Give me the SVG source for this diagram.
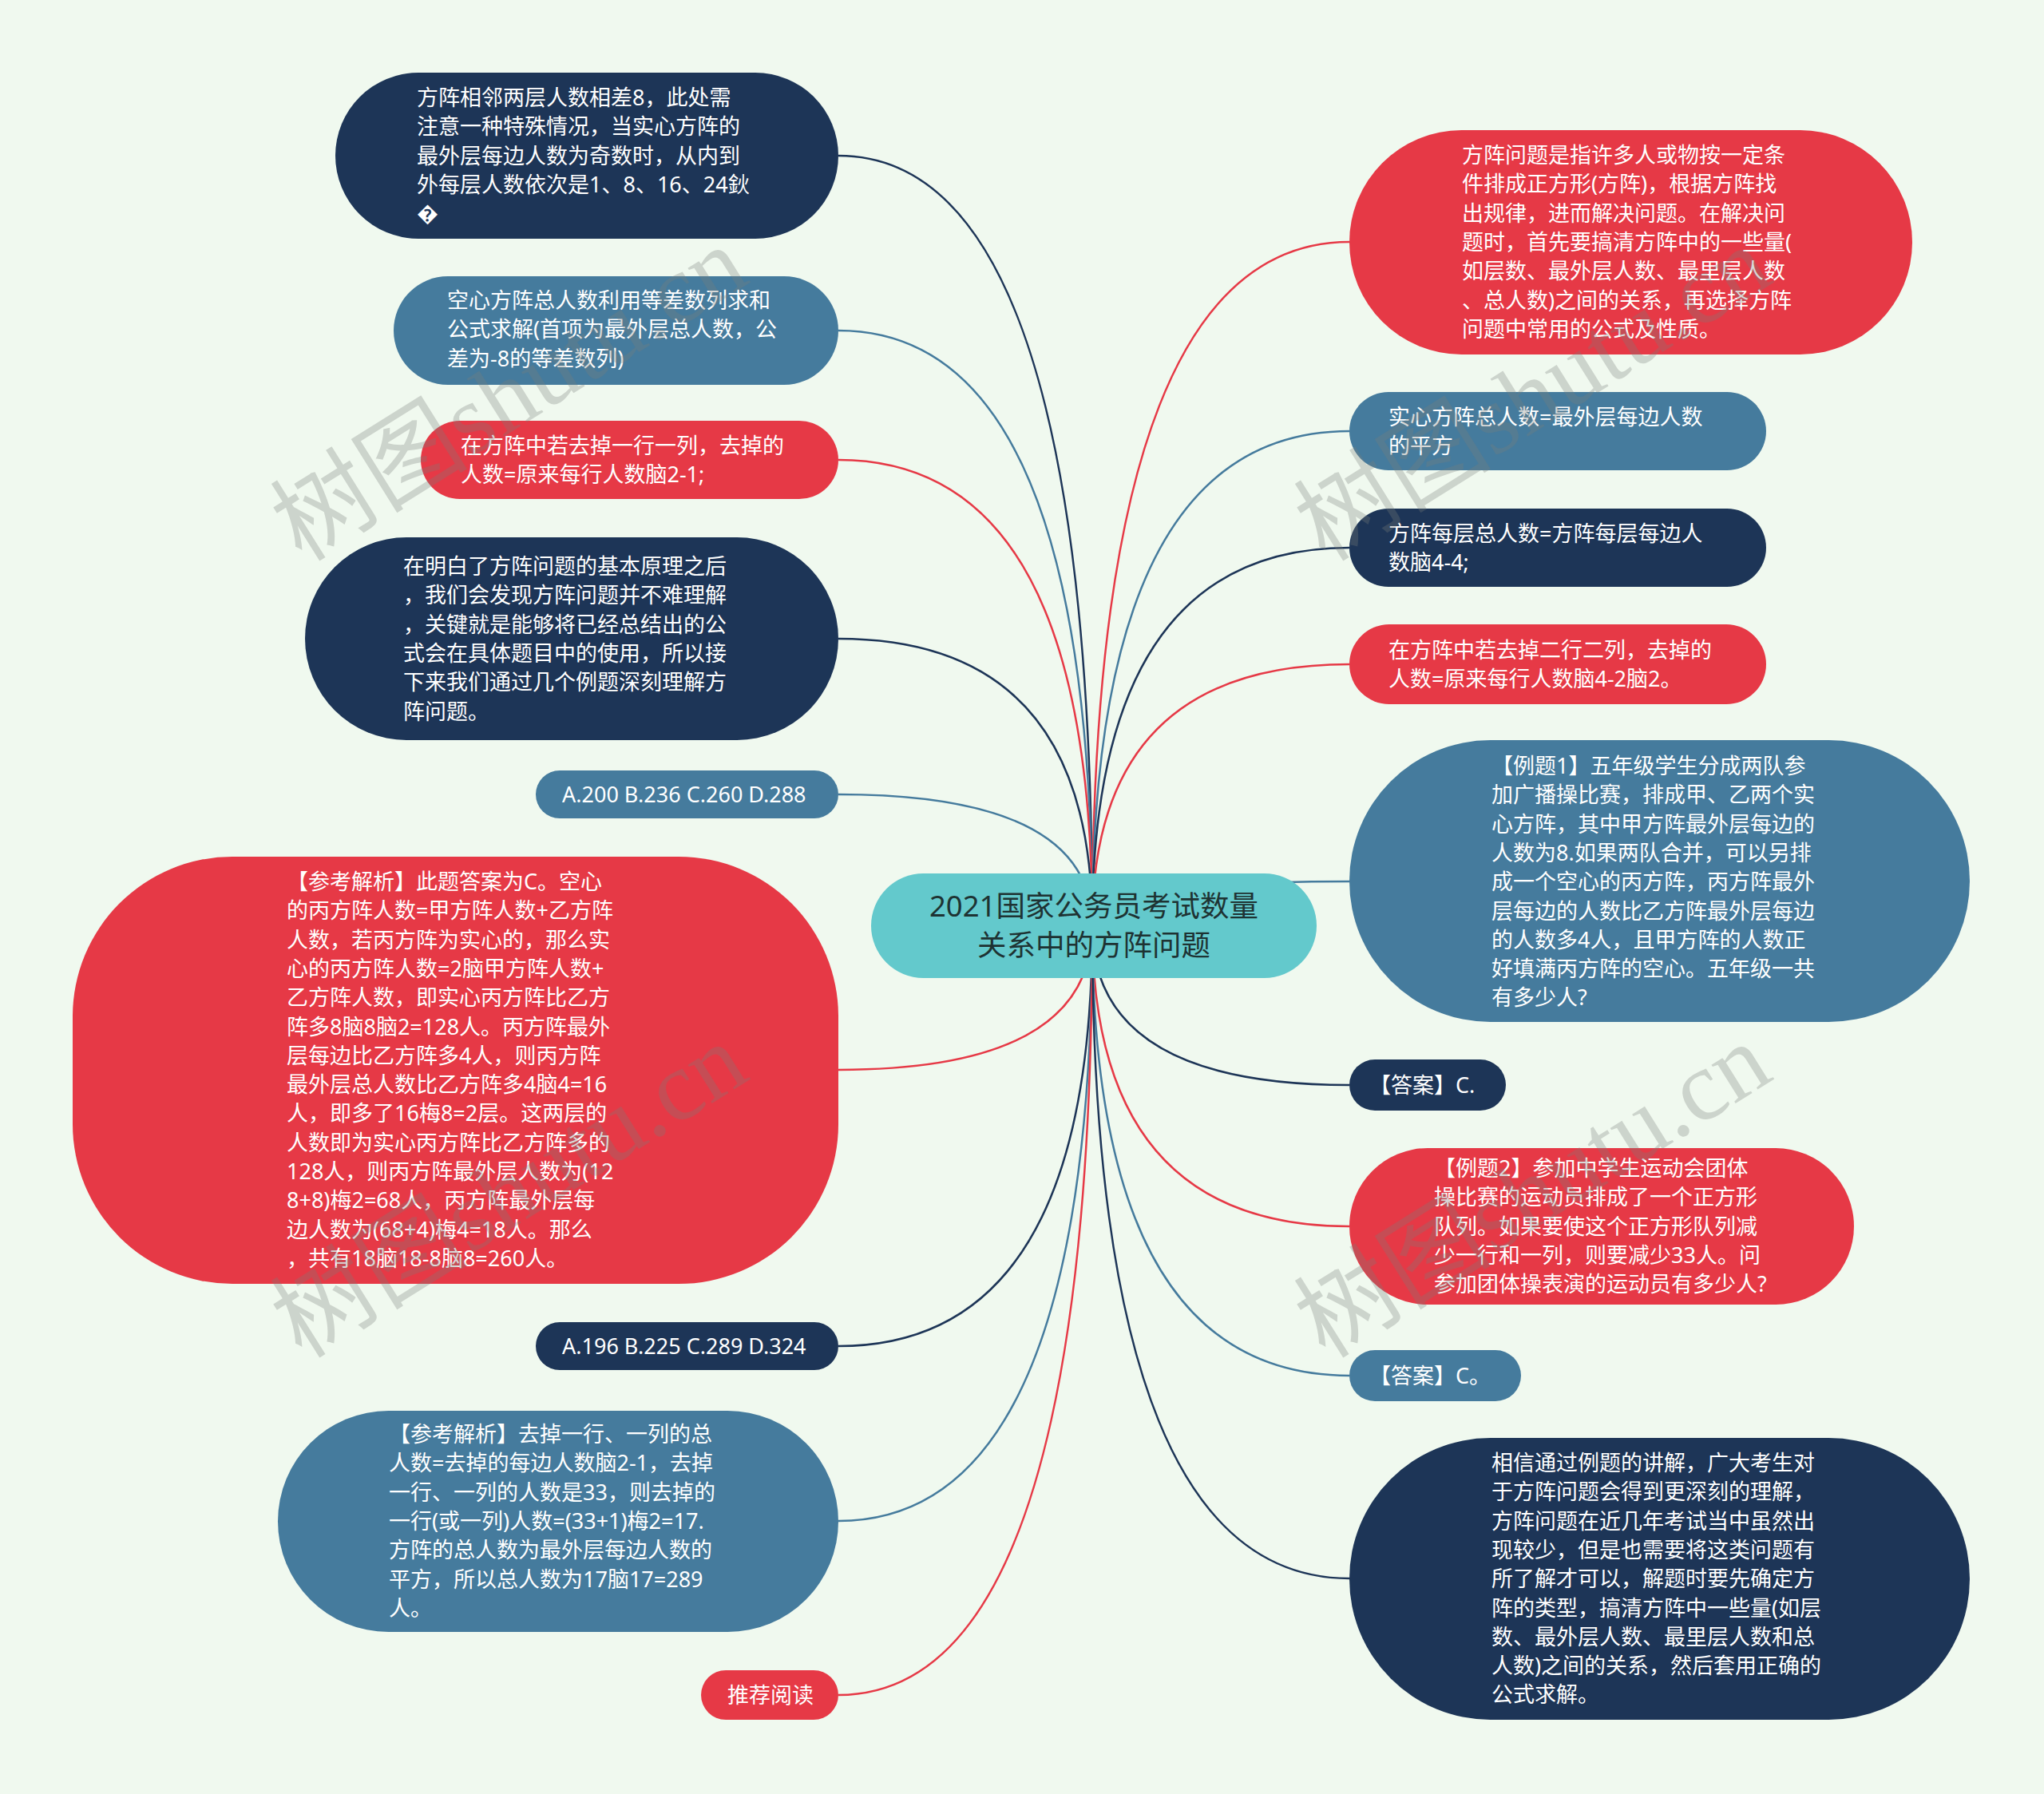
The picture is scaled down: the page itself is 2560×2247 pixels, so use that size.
<svg xmlns="http://www.w3.org/2000/svg" width="2560" height="2247" viewBox="0 0 2560 2247">
<style>
.t{font-family:"Noto Sans","Noto Sans CJK SC",sans-serif;font-size:27px;fill:#ffffff}
.title{font-family:"Noto Sans","Noto Sans CJK SC",sans-serif;font-size:36.5px;fill:#1e3333}
.navy{fill:#1d3557}.blue{fill:#457b9d}.red{fill:#e63946}.center{fill:#63c9cc}
.c{fill:none;stroke-width:2.5}
.cn{stroke:#1d3557}.cb{stroke:#457b9d}.cr{stroke:#e63946}
.wm{font-family:"Liberation Serif","Noto Sans CJK SC",serif;font-size:124px;fill:#7a7f7a;fill-opacity:0.3}
</style>
<rect width="2560" height="2247" fill="#f0f9ef"/>
<g id="connectors">
<path class="c cn" d="M1368 1160 Q1368 195 1050 195"/>
<path class="c cb" d="M1368 1160 Q1368 414 1050 414"/>
<path class="c cr" d="M1368 1160 Q1368 576 1050 576"/>
<path class="c cn" d="M1368 1160 Q1368 800 1050 800"/>
<path class="c cb" d="M1368 1160 Q1368 995 1050 995"/>
<path class="c cr" d="M1368 1160 Q1368 1340 1050 1340"/>
<path class="c cn" d="M1368 1160 Q1368 1686 1050 1686"/>
<path class="c cb" d="M1368 1160 Q1368 1905 1050 1905"/>
<path class="c cr" d="M1368 1160 Q1368 2123 1050 2123"/>
<path class="c cr" d="M1368 1160 Q1368 303 1690 303"/>
<path class="c cb" d="M1368 1160 Q1368 540 1690 540"/>
<path class="c cn" d="M1368 1160 Q1368 686 1690 686"/>
<path class="c cr" d="M1368 1160 Q1368 832 1690 832"/>
<path class="c cb" d="M1368 1160 Q1368 1104 1690 1104"/>
<path class="c cn" d="M1368 1160 Q1368 1359 1690 1359"/>
<path class="c cr" d="M1368 1160 Q1368 1536 1690 1536"/>
<path class="c cb" d="M1368 1160 Q1368 1723 1690 1723"/>
<path class="c cn" d="M1368 1160 Q1368 1977 1690 1977"/>
</g>
<g id="center">
<rect class="center" x="1091" y="1094" width="558" height="131" rx="65.5"/>
<text class="title" text-anchor="middle" x="1370" y="1148">2021国家公务员考试数量<tspan x="1370" dy="49">关系中的方阵问题</tspan></text>
</g>
<g id="L1">
<rect class="navy" x="420" y="91" width="630" height="208" rx="104"/>
<text class="t" x="522" y="132">方阵相邻两层人数相差8，此处需<tspan x="522" dy="36.3">注意一种特殊情况，当实心方阵的</tspan><tspan x="522" dy="36.3">最外层每边人数为奇数时，从内到</tspan><tspan x="522" dy="36.3">外每层人数依次是1、8、16、24鈥</tspan><tspan x="522" dy="36.3">&#xFFFD;</tspan></text>
</g>
<g id="L2">
<rect class="blue" x="493" y="346" width="557" height="136" rx="68"/>
<text class="t" x="560" y="386">空心方阵总人数利用等差数列求和<tspan x="560" dy="36.3">公式求解(首项为最外层总人数，公</tspan><tspan x="560" dy="36.3">差为-8的等差数列)</tspan></text>
</g>
<g id="L3">
<rect class="red" x="527" y="527" width="523" height="98" rx="49"/>
<text class="t" x="577" y="568">在方阵中若去掉一行一列，去掉的<tspan x="577" dy="36.3">人数=原来每行人数脑2-1;</tspan></text>
</g>
<g id="L4">
<rect class="navy" x="382" y="673" width="668" height="254" rx="127"/>
<text class="t" x="505" y="719">在明白了方阵问题的基本原理之后<tspan x="505" dy="36.3">，我们会发现方阵问题并不难理解</tspan><tspan x="505" dy="36.3">，关键就是能够将已经总结出的公</tspan><tspan x="505" dy="36.3">式会在具体题目中的使用，所以接</tspan><tspan x="505" dy="36.3">下来我们通过几个例题深刻理解方</tspan><tspan x="505" dy="36.3">阵问题。</tspan></text>
</g>
<g id="L5">
<rect class="blue" x="671" y="965" width="379" height="60" rx="30"/>
<text class="t" x="704" y="1005">A.200 B.236 C.260 D.288</text>
</g>
<g id="L6">
<rect class="red" x="91" y="1073" width="959" height="535" rx="200"/>
<text class="t" x="359" y="1114">【参考解析】此题答案为C。空心<tspan x="359" dy="36.3">的丙方阵人数=甲方阵人数+乙方阵</tspan><tspan x="359" dy="36.3">人数，若丙方阵为实心的，那么实</tspan><tspan x="359" dy="36.3">心的丙方阵人数=2脑甲方阵人数+</tspan><tspan x="359" dy="36.3">乙方阵人数，即实心丙方阵比乙方</tspan><tspan x="359" dy="36.3">阵多8脑8脑2=128人。丙方阵最外</tspan><tspan x="359" dy="36.3">层每边比乙方阵多4人，则丙方阵</tspan><tspan x="359" dy="36.3">最外层总人数比乙方阵多4脑4=16</tspan><tspan x="359" dy="36.3">人，即多了16梅8=2层。这两层的</tspan><tspan x="359" dy="36.3">人数即为实心丙方阵比乙方阵多的</tspan><tspan x="359" dy="36.3">128人，则丙方阵最外层人数为(12</tspan><tspan x="359" dy="36.3">8+8)梅2=68人，丙方阵最外层每</tspan><tspan x="359" dy="36.3">边人数为(68+4)梅4=18人。那么</tspan><tspan x="359" dy="36.3">，共有18脑18-8脑8=260人。</tspan></text>
</g>
<g id="L7">
<rect class="navy" x="671" y="1656" width="379" height="60" rx="30"/>
<text class="t" x="704" y="1696">A.196 B.225 C.289 D.324</text>
</g>
<g id="L8">
<rect class="blue" x="348" y="1767" width="702" height="277" rx="138.5"/>
<text class="t" x="487" y="1806">【参考解析】去掉一行、一列的总<tspan x="487" dy="36.3">人数=去掉的每边人数脑2-1，去掉</tspan><tspan x="487" dy="36.3">一行、一列的人数是33，则去掉的</tspan><tspan x="487" dy="36.3">一行(或一列)人数=(33+1)梅2=17.</tspan><tspan x="487" dy="36.3">方阵的总人数为最外层每边人数的</tspan><tspan x="487" dy="36.3">平方，所以总人数为17脑17=289</tspan><tspan x="487" dy="36.3">人。</tspan></text>
</g>
<g id="L9">
<rect class="red" x="878" y="2092" width="172" height="62" rx="31"/>
<text class="t" x="911" y="2133">推荐阅读</text>
</g>
<g id="R1">
<rect class="red" x="1690" y="163" width="705" height="281" rx="140.5"/>
<text class="t" x="1831" y="204">方阵问题是指许多人或物按一定条<tspan x="1831" dy="36.3">件排成正方形(方阵)，根据方阵找</tspan><tspan x="1831" dy="36.3">出规律，进而解决问题。在解决问</tspan><tspan x="1831" dy="36.3">题时，首先要搞清方阵中的一些量(</tspan><tspan x="1831" dy="36.3">如层数、最外层人数、最里层人数</tspan><tspan x="1831" dy="36.3">、总人数)之间的关系，再选择方阵</tspan><tspan x="1831" dy="36.3">问题中常用的公式及性质。</tspan></text>
</g>
<g id="R2">
<rect class="blue" x="1690" y="491" width="522" height="98" rx="49"/>
<text class="t" x="1739" y="532">实心方阵总人数=最外层每边人数<tspan x="1739" dy="36.3">的平方</tspan></text>
</g>
<g id="R3">
<rect class="navy" x="1690" y="637" width="522" height="98" rx="49"/>
<text class="t" x="1739" y="678">方阵每层总人数=方阵每层每边人<tspan x="1739" dy="36.3">数脑4-4;</tspan></text>
</g>
<g id="R4">
<rect class="red" x="1690" y="782" width="522" height="100" rx="50"/>
<text class="t" x="1739" y="824">在方阵中若去掉二行二列，去掉的<tspan x="1739" dy="36.3">人数=原来每行人数脑4-2脑2。</tspan></text>
</g>
<g id="R5">
<rect class="blue" x="1690" y="927" width="777" height="353" rx="176.5"/>
<text class="t" x="1868" y="969">【例题1】五年级学生分成两队参<tspan x="1868" dy="36.3">加广播操比赛，排成甲、乙两个实</tspan><tspan x="1868" dy="36.3">心方阵，其中甲方阵最外层每边的</tspan><tspan x="1868" dy="36.3">人数为8.如果两队合并，可以另排</tspan><tspan x="1868" dy="36.3">成一个空心的丙方阵，丙方阵最外</tspan><tspan x="1868" dy="36.3">层每边的人数比乙方阵最外层每边</tspan><tspan x="1868" dy="36.3">的人数多4人，且甲方阵的人数正</tspan><tspan x="1868" dy="36.3">好填满丙方阵的空心。五年级一共</tspan><tspan x="1868" dy="36.3">有多少人?</tspan></text>
</g>
<g id="R6">
<rect class="navy" x="1690" y="1327" width="196" height="64" rx="32"/>
<text class="t" x="1715" y="1369">【答案】C.</text>
</g>
<g id="R7">
<rect class="red" x="1690" y="1438" width="632" height="196" rx="98"/>
<text class="t" x="1796" y="1473">【例题2】参加中学生运动会团体<tspan x="1796" dy="36.3">操比赛的运动员排成了一个正方形</tspan><tspan x="1796" dy="36.3">队列。如果要使这个正方形队列减</tspan><tspan x="1796" dy="36.3">少一行和一列，则要减少33人。问</tspan><tspan x="1796" dy="36.3">参加团体操表演的运动员有多少人?</tspan></text>
</g>
<g id="R8">
<rect class="blue" x="1690" y="1691" width="215" height="64" rx="32"/>
<text class="t" x="1715" y="1733">【答案】C。</text>
</g>
<g id="R9">
<rect class="navy" x="1690" y="1801" width="777" height="353" rx="176.5"/>
<text class="t" x="1868" y="1842">相信通过例题的讲解，广大考生对<tspan x="1868" dy="36.3">于方阵问题会得到更深刻的理解，</tspan><tspan x="1868" dy="36.3">方阵问题在近几年考试当中虽然出</tspan><tspan x="1868" dy="36.3">现较少，但是也需要将这类问题有</tspan><tspan x="1868" dy="36.3">所了解才可以，解题时要先确定方</tspan><tspan x="1868" dy="36.3">阵的类型，搞清方阵中一些量(如层</tspan><tspan x="1868" dy="36.3">数、最外层人数、最里层人数和总</tspan><tspan x="1868" dy="36.3">人数)之间的关系，然后套用正确的</tspan><tspan x="1868" dy="36.3">公式求解。</tspan></text>
</g>
<g id="watermarks">
<text class="wm" transform="translate(378,705) rotate(-32)">树图shutu.cn</text>
<text class="wm" transform="translate(1660,705) rotate(-32)">树图shutu.cn</text>
<text class="wm" transform="translate(378,1703) rotate(-32)">树图shutu.cn</text>
<text class="wm" transform="translate(1660,1703) rotate(-32)">树图shutu.cn</text>
</g>
</svg>
